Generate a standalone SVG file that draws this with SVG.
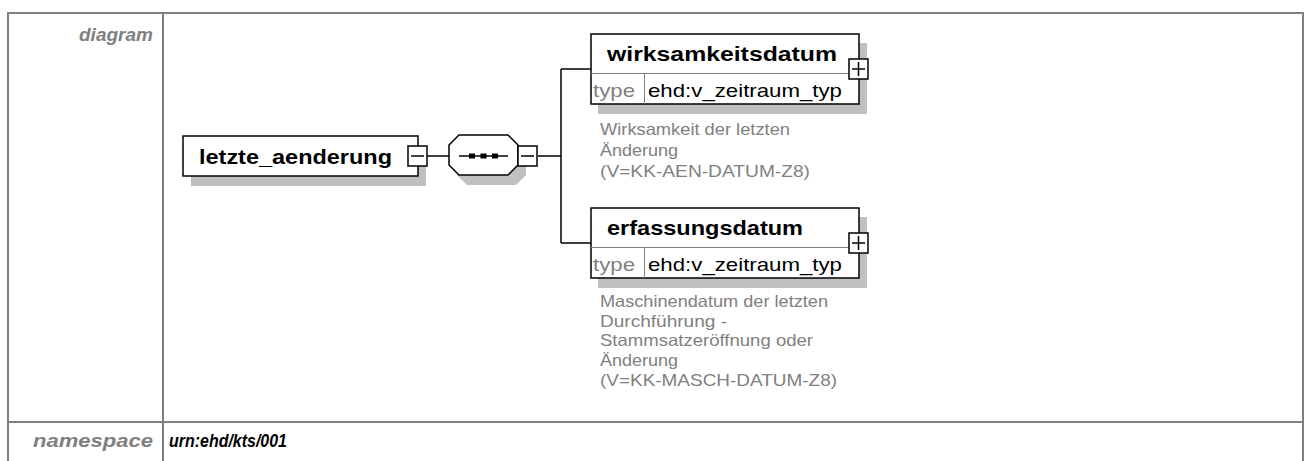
<svg xmlns="http://www.w3.org/2000/svg" width="1311" height="461" viewBox="0 0 1311 461">
<defs>
<style>
.tbl{fill:none;stroke:#808080;stroke-width:2}
.lbl{font-family:"Liberation Sans",Arial,sans-serif;font-weight:bold;font-style:italic;font-size:19px;fill:#808080}
.ns{font-family:"Liberation Sans",Arial,sans-serif;font-weight:bold;font-style:italic;font-size:19px;fill:#000}
.box{fill:#fff;stroke:#000;stroke-width:1.5}
.shadow{fill:#c0c0c0}
.name{font-family:"Liberation Sans",Arial,sans-serif;font-weight:bold;font-size:21px;fill:#000}
.sep{stroke:#808080;stroke-width:1}
.tk{font-family:"Liberation Sans",Arial,sans-serif;font-size:19px;fill:#808080}
.tv{font-family:"Liberation Sans",Arial,sans-serif;font-size:19px;fill:#000}
.doc{font-family:"Liberation Sans",Arial,sans-serif;font-size:16.5px;fill:#808080}
.con{stroke:#000;stroke-width:1.5;fill:none}
.tog{fill:#fff;stroke:#000;stroke-width:1.5}
.sign{stroke:#000;stroke-width:1.5}
</style>
</defs>

<g id="table">
<rect class="tbl" x="8" y="13" width="1295" height="470"/>
<line class="tbl" x1="163" y1="13" x2="163" y2="470"/>
<line class="tbl" x1="8" y1="422" x2="1303" y2="422"/>
<text class="lbl" x="153" y="41" text-anchor="end" textLength="74" lengthAdjust="spacingAndGlyphs">diagram</text>
<text class="lbl" x="153" y="447" text-anchor="end" textLength="120" lengthAdjust="spacingAndGlyphs">namespace</text>
<text class="ns" x="169" y="447" textLength="118" lengthAdjust="spacingAndGlyphs">urn:ehd/kts/001</text>
</g>

<g id="connectors">
<line class="con" x1="427" y1="156" x2="449" y2="156"/>
<line class="con" x1="538" y1="156" x2="561" y2="156"/>
<line class="con" x1="561" y1="69" x2="561" y2="243"/>
<line class="con" x1="561" y1="69" x2="591" y2="69"/>
<line class="con" x1="561" y1="243" x2="591" y2="243"/>
</g>

<g id="node-letzte_aenderung">
<rect class="shadow" x="191" y="146" width="235" height="40"/>
<rect class="box" x="183" y="136" width="235" height="40"/>
<text class="name" x="199" y="164" textLength="193" lengthAdjust="spacingAndGlyphs">letzte_aenderung</text>
<rect class="tog" x="408" y="146" width="19" height="20"/>
<line class="sign" x1="411" y1="156" x2="424" y2="156"/>
</g>

<g id="node-sequence">
<polygon class="shadow" points="467,145 516,145 526,155 526,175 516,185 467,185 457,175 457,155"/>
<polygon class="box" points="459,135 508,135 518,145 518,165 508,175 459,175 449,165 449,145"/>
<line class="sign" x1="459" y1="156" x2="508" y2="156"/>
<rect x="469" y="153.5" width="6" height="5" fill="#000"/>
<rect x="480.5" y="153.5" width="6" height="5" fill="#000"/>
<rect x="492" y="153.5" width="6" height="5" fill="#000"/>
<rect class="tog" x="518" y="146" width="19" height="20"/>
<line class="sign" x1="521" y1="156" x2="534" y2="156"/>
</g>

<g id="node-wirksamkeitsdatum">
<rect class="shadow" x="598" y="43" width="269" height="71"/>
<rect class="box" x="591" y="34" width="268" height="70"/>
<line class="sep" x1="591" y1="73.5" x2="859" y2="73.5"/>
<line class="sep" x1="644.5" y1="73.5" x2="644.5" y2="104"/>
<text class="name" x="607" y="61" textLength="230" lengthAdjust="spacingAndGlyphs">wirksamkeitsdatum</text>
<text class="tk" x="593" y="97" textLength="42" lengthAdjust="spacingAndGlyphs">type</text>
<text class="tv" x="648" y="97" textLength="194" lengthAdjust="spacingAndGlyphs">ehd:v_zeitraum_typ</text>
<rect class="tog" x="849" y="59" width="19" height="20"/>
<line class="sign" x1="852" y1="69" x2="865" y2="69"/>
<line class="sign" x1="858.5" y1="62" x2="858.5" y2="76"/>
<text class="doc" x="600" y="135" textLength="190" lengthAdjust="spacingAndGlyphs">Wirksamkeit der letzten</text>
<text class="doc" x="600" y="156" textLength="78" lengthAdjust="spacingAndGlyphs">Änderung</text>
<text class="doc" x="600" y="177" textLength="210" lengthAdjust="spacingAndGlyphs">(V=KK-AEN-DATUM-Z8)</text>
</g>

<g id="node-erfassungsdatum">
<rect class="shadow" x="598" y="217" width="269" height="71"/>
<rect class="box" x="591" y="208" width="268" height="70"/>
<line class="sep" x1="591" y1="247.5" x2="859" y2="247.5"/>
<line class="sep" x1="644.5" y1="247.5" x2="644.5" y2="278"/>
<text class="name" x="607" y="235" textLength="196" lengthAdjust="spacingAndGlyphs">erfassungsdatum</text>
<text class="tk" x="593" y="271" textLength="42" lengthAdjust="spacingAndGlyphs">type</text>
<text class="tv" x="648" y="271" textLength="194" lengthAdjust="spacingAndGlyphs">ehd:v_zeitraum_typ</text>
<rect class="tog" x="849" y="233" width="19" height="20"/>
<line class="sign" x1="852" y1="243" x2="865" y2="243"/>
<line class="sign" x1="858.5" y1="236" x2="858.5" y2="250"/>
<text class="doc" x="600" y="307" textLength="228" lengthAdjust="spacingAndGlyphs">Maschinendatum der letzten</text>
<text class="doc" x="600" y="327" textLength="127" lengthAdjust="spacingAndGlyphs">Durchführung -</text>
<text class="doc" x="600" y="346" textLength="213" lengthAdjust="spacingAndGlyphs">Stammsatzeröffnung oder</text>
<text class="doc" x="600" y="366" textLength="78" lengthAdjust="spacingAndGlyphs">Änderung</text>
<text class="doc" x="600" y="386" textLength="237" lengthAdjust="spacingAndGlyphs">(V=KK-MASCH-DATUM-Z8)</text>
</g>
</svg>
